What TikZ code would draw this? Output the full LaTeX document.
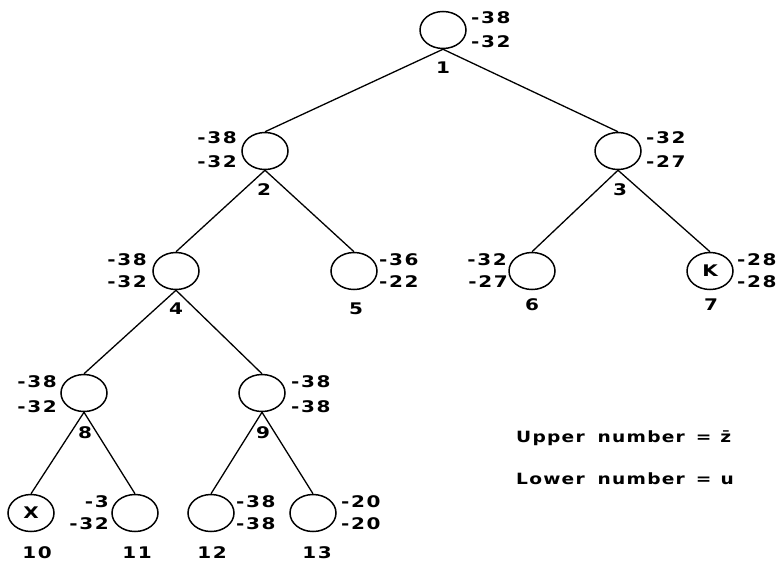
\documentclass[tikz,border=0pt]{standalone}
\usepackage{fontspec}
\setmainfont{DejaVu Sans}
\newfontfamily\labfont[FakeStretch=1.25,LetterSpace=10]{DejaVu Sans Bold}
\newfontfamily\legfont[FakeStretch=1.2,LetterSpace=8]{DejaVu Sans Bold}
\usetikzlibrary{shapes.geometric}
\begin{document}
\begin{tikzpicture}[x=1pt,y=-1pt,
  nd/.style={draw,ellipse,line width=1.5pt,minimum width=46pt,minimum height=37pt,inner sep=0pt,font=\labfont\fontsize{16}{16}\selectfont},
  lb/.style={font=\labfont\fontsize{16}{16}\selectfont,inner sep=0pt},
  lg/.style={font=\legfont\fontsize{15.5}{15.5}\selectfont,inner sep=0pt,anchor=west},
  ed/.style={line width=1.3pt}]
\useasboundingbox (0,0) rectangle (784,565);
% nodes
\node[nd] (n1) at (443,30) {};
\node[nd] (n2) at (265,151) {};
\node[nd] (n3) at (618,151) {};
\node[nd] (n4) at (176,271) {};
\node[nd] (n5) at (354,271) {};
\node[nd] (n6) at (532,271) {};
\node[nd] (n7) at (710,271) {K};
\node[nd] (n8) at (84,393) {};
\node[nd] (n9) at (262,393) {};
\node[nd] (n10) at (31,513) {X};
\node[nd] (n11) at (135,513) {};
\node[nd] (n12) at (211,513) {};
\node[nd] (n13) at (313,513) {};
% edges
\draw[ed] (n1.south) -- (n2.north);
\draw[ed] (n1.south) -- (n3.north);
\draw[ed] (n2.south) -- (n4.north);
\draw[ed] (n2.south) -- (n5.north);
\draw[ed] (n3.south) -- (n6.north);
\draw[ed] (n3.south) -- (n7.north);
\draw[ed] (n4.south) -- (n8.north);
\draw[ed] (n4.south) -- (n9.north);
\draw[ed] (n8.south) -- (n10.north);
\draw[ed] (n8.south) -- (n11.north);
\draw[ed] (n9.south) -- (n12.north);
\draw[ed] (n9.south) -- (n13.north);
% numbers
\node[lb] (i1) at (443,68) {1};
\node[lb] (i2) at (264,190) {2};
\node[lb] (i3) at (620,190) {3};
\node[lb] (i4) at (176,309) {4};
\node[lb] (i5) at (356,309) {5};
\node[lb] (i6) at (532,305) {6};
\node[lb] (i7) at (711,305) {7};
\node[lb] (i8) at (85,433) {8};
\node[lb] (i9) at (263,433) {9};
\node[lb] (i10) at (37,553) {10};
\node[lb] (i11) at (137,553) {11};
\node[lb] (i12) at (212,553) {12};
\node[lb] (i13) at (317,553) {13};
% values
\node[lb,anchor=west] (a1) at (471,18) {-38};
\node[lb,anchor=west] (b1) at (471,42) {-32};
\node[lb,anchor=east] (a2) at (237,138) {-38};
\node[lb,anchor=east] (b2) at (237,162) {-32};
\node[lb,anchor=west] (a3) at (646,138) {-32};
\node[lb,anchor=west] (b3) at (646,162) {-27};
\node[lb,anchor=east] (a4) at (147,260) {-38};
\node[lb,anchor=east] (b4) at (147,282) {-32};
\node[lb,anchor=west] (a5) at (379,260) {-36};
\node[lb,anchor=west] (b5) at (379,282) {-22};
\node[lb,anchor=east] (a6) at (507,260) {-32};
\node[lb,anchor=east] (b6) at (508,282) {-27};
\node[lb,anchor=west] (a7) at (737,260) {-28};
\node[lb,anchor=west] (b7) at (737,282) {-28};
\node[lb,anchor=east] (a8) at (57,382) {-38};
\node[lb,anchor=east] (b8) at (57,407) {-32};
\node[lb,anchor=west] (a9) at (291,382) {-38};
\node[lb,anchor=west] (b9) at (291,407) {-38};
\node[lb,anchor=east] (a11) at (109,502) {-3};
\node[lb,anchor=east] (b11) at (109,524) {-32};
\node[lb,anchor=west] (a12) at (236,502) {-38};
\node[lb,anchor=west] (b12) at (236,524) {-38};
\node[lb,anchor=west] (a13) at (341,502) {-20};
\node[lb,anchor=west] (b13) at (341,524) {-20};
% legend
\node[lg] (l1) at (516,438) {Upper\hspace{13pt}number\hspace{11pt}=\hspace{9pt}\=z};
\node[lg] (l2) at (516,479) {Lower\hspace{13pt}number\hspace{11pt}=\hspace{9pt}u};
\end{tikzpicture}
\end{document}
